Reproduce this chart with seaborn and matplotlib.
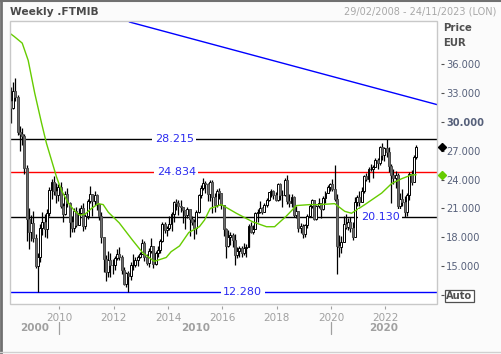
import numpy as np
import pandas as pd
import matplotlib
matplotlib.use("Agg")
import matplotlib.pyplot as plt
import matplotlib.transforms as mtransforms
from matplotlib.patches import Rectangle
from matplotlib.lines import Line2D
import seaborn as sns

sns.set_style("white")
plt.rcParams["font.family"] = ["DejaVu Sans"]

# ---------------- data (values in thousands of index points) ----------------
months = pd.period_range("2008-03", "2023-02", freq="M")
open_first = 32.2
close = [
    31.5, 33.2, 32.6, 29.0, 28.7, 28.5, 25.2, 19.9, 18.5, 19.5,
    17.9, 15.0, 15.9, 19.0, 19.6, 18.9, 20.5, 22.9, 23.8, 22.8, 22.4, 23.2,
    21.3, 20.4, 22.5, 21.6, 19.6, 19.0, 20.7, 19.3, 20.5, 21.0, 19.2, 20.2,
    21.8, 22.5, 21.8, 22.4, 21.5, 20.2, 18.0, 15.7, 14.4, 15.6, 15.1, 15.1,
    15.8, 16.3, 15.9, 14.6, 13.1, 14.3, 14.0, 15.1, 15.1, 15.6, 16.0, 16.3,
    17.4, 15.9, 15.3, 16.6, 17.1, 15.2, 16.4, 16.7, 17.6, 19.4, 18.8, 19.0,
    19.4, 20.4, 21.7, 21.6, 21.3, 21.1, 20.8, 20.3, 20.9, 19.9, 19.6, 19.0,
    20.6, 22.4, 23.1, 23.6, 23.5, 22.5, 23.7, 22.2, 21.4, 22.8, 22.6, 21.4,
    18.9, 17.1, 18.0, 18.2, 17.7, 16.2, 16.6, 16.9, 16.4, 16.9, 17.0, 19.2,
    18.6, 18.9, 20.5, 20.6, 21.0, 20.6, 21.4, 21.9, 22.7, 22.8, 22.4, 21.9,
    23.5, 22.4, 22.4, 24.0, 21.8, 21.6, 22.2, 20.3, 20.7, 19.0, 19.2, 18.3,
    19.3, 20.2, 21.3, 21.9, 19.9, 21.3, 21.6, 20.9, 22.1, 22.6, 23.2, 23.5,
    23.0, 22.0, 17.1, 17.0, 17.5, 19.4, 19.1, 19.6, 19.0, 18.0, 21.7, 22.2,
    21.7, 22.8, 24.4, 24.1, 25.1, 25.1, 25.3, 26.0, 25.7, 27.4, 26.6, 27.3,
    26.9, 25.4, 24.5, 24.2, 24.5, 21.3, 22.0, 21.7, 20.6, 22.4, 24.6, 23.7,
    26.4, 27.4,
]
high = [
    33.6, 34.2, 34.6, 32.8, 29.6, 29.4, 28.7, 25.5, 21.0, 20.3,
    20.7, 18.3, 16.4, 19.4, 20.6, 20.4, 20.9, 23.2, 24.1, 24.4, 23.6, 23.5,
    23.7, 21.6, 22.8, 23.1, 21.7, 20.2, 21.0, 21.1, 21.0, 21.4, 21.6, 20.4,
    22.0, 23.3, 22.5, 22.8, 22.5, 21.5, 20.6, 18.0, 16.2, 16.6, 16.4, 15.7,
    16.1, 16.8, 17.0, 16.2, 14.9, 14.4, 14.5, 15.4, 16.3, 15.9, 16.2, 16.5,
    17.8, 17.6, 16.3, 16.9, 17.9, 17.1, 16.6, 17.1, 17.8, 19.6, 19.6, 19.2,
    20.2, 20.6, 21.8, 22.0, 21.9, 21.9, 21.1, 20.5, 21.2, 20.7, 20.2, 19.9,
    20.8, 22.5, 23.4, 24.2, 23.9, 23.6, 24.0, 24.0, 22.6, 23.0, 23.1, 22.6,
    21.4, 19.0, 18.8, 18.6, 18.4, 18.3, 17.0, 17.1, 17.1, 17.4, 17.3, 19.4,
    19.6, 19.3, 20.6, 20.9, 21.8, 21.2, 21.6, 22.1, 22.7, 23.0, 22.9, 22.7,
    23.6, 23.6, 22.9, 24.2, 24.5, 22.5, 22.5, 22.3, 21.3, 20.7, 19.5, 19.4,
    19.4, 20.4, 21.5, 22.0, 21.9, 21.4, 22.1, 21.4, 22.3, 22.8, 23.4, 23.6,
    24.1, 25.5, 22.5, 18.2, 18.1, 20.2, 20.4, 20.0, 20.1, 19.6, 22.2, 22.4,
    22.8, 23.2, 24.5, 24.7, 25.3, 25.6, 25.5, 26.2, 26.3, 27.5, 27.8, 27.4,
    28.2, 27.4, 25.6, 25.1, 24.9, 24.7, 22.6, 23.0, 22.3, 22.6, 24.8, 25.0,
    26.6, 27.6,
]
low = [
    29.9, 31.3, 32.2, 28.6, 27.0, 27.6, 24.6, 17.6, 16.8, 17.6,
    17.5, 14.8, 12.3, 15.4, 18.2, 18.0, 17.9, 20.2, 22.0, 22.4, 21.6, 21.8,
    21.0, 19.6, 20.3, 21.2, 18.0, 18.6, 18.5, 19.1, 19.4, 20.4, 18.7, 18.9,
    19.9, 21.6, 20.2, 21.4, 20.8, 19.8, 17.4, 14.4, 13.5, 13.9, 13.9, 14.2,
    14.6, 15.6, 15.6, 14.2, 13.0, 12.8, 12.3, 13.6, 14.6, 14.9, 15.0, 15.8,
    16.4, 15.5, 15.1, 14.9, 16.4, 14.8, 15.1, 15.9, 16.4, 17.5, 18.4, 18.1,
    18.8, 18.7, 19.6, 20.8, 20.3, 20.6, 19.5, 18.9, 20.0, 18.1, 19.3, 17.8,
    18.3, 20.5, 22.1, 22.9, 22.6, 21.8, 21.8, 20.5, 20.6, 21.2, 22.0, 20.9,
    18.1, 15.8, 17.0, 17.2, 17.0, 15.1, 15.8, 16.0, 16.0, 16.2, 15.9, 17.0,
    18.4, 18.3, 18.9, 19.6, 20.5, 20.4, 20.6, 21.2, 21.8, 22.2, 22.0, 21.8,
    21.8, 21.9, 21.2, 22.3, 21.5, 21.2, 21.2, 20.1, 20.0, 18.6, 18.4, 17.9,
    18.0, 19.0, 20.1, 21.0, 19.8, 19.8, 21.0, 20.0, 20.8, 21.6, 22.6, 22.8,
    22.8, 21.8, 14.2, 16.0, 16.4, 17.8, 18.9, 18.8, 18.6, 17.7, 18.3, 21.3,
    21.3, 21.7, 22.6, 23.9, 23.8, 24.9, 24.2, 25.3, 25.1, 25.5, 26.0, 25.9,
    26.4, 24.8, 21.6, 23.5, 23.1, 20.9, 20.4, 21.3, 20.1, 20.2, 21.9, 23.4,
    23.8, 26.1,
]

# moving average (decimal year, value)
ma_x = [2008.14, 2008.33, 2008.63, 2008.85, 2009.09, 2009.34, 2009.52, 2009.70,
        2009.89, 2010.07, 2010.32, 2010.57, 2010.75, 2010.94, 2011.18, 2011.43,
        2011.61, 2011.80, 2012.20, 2012.69, 2013.06, 2013.49, 2013.93, 2014.11,
        2014.42, 2014.76, 2015.15, 2015.34, 2015.55, 2015.96, 2016.51, 2017.12,
        2017.62, 2017.92, 2018.35, 2018.72, 2019.21, 2019.58, 2020.13, 2020.50,
        2020.75, 2021.24, 2021.86, 2022.23, 2022.60, 2022.97, 2023.13]
ma_y = [39.3, 38.9, 38.2, 36.4, 33.0, 29.9, 27.8, 26.1,
        24.3, 22.9, 21.6, 20.7, 20.3, 20.4, 21.0, 21.5,
        21.4, 20.6, 19.5, 17.7, 16.4, 15.5, 15.9, 16.5,
        17.1, 18.5, 19.1, 19.8, 21.0, 21.4, 20.5, 19.6,
        19.1, 19.1, 20.2, 21.3, 21.4, 21.4, 21.5, 20.7,
        20.5, 21.4, 22.6, 23.6, 24.1, 24.5, 24.5]

trend_x = [2012.57, 2023.90]
trend_y = [40.4, 31.8]

levels = [28.215, 24.834, 20.130, 12.280]
level_colors = ["black", "#ff0000", "black", "#0000ff"]
level_label_x = [2014.23, 2014.30, 2021.80, 2016.74]

year_ticks = [2010, 2012, 2014, 2016, 2018, 2020, 2022]
decades = ["2000", "2010", "2020"]
price_ticks = [15, 18, 21, 24, 27, 30, 33, 36]

x_start = 2008.162   # 29/02/2008
x_end = 2023.896     # 24/11/2023

# ---------------- figure ----------------
fig = plt.figure(figsize=(5.02, 3.54), dpi=100, facecolor="#fbfbfb")
W, H = 502, 354
ax = fig.add_axes([9.5 / W, 1 - 304 / H, (437 - 9.5) / W, (304 - 21) / H])
ax.set_facecolor("white")

df = pd.DataFrame({
    "x": months.year + (months.month - 0.5) / 12.0,
    "close": close, "high": high, "low": low,
})
df["open"] = [open_first] + close[:-1]
up = df["close"] >= df["open"]

# wicks
ax.vlines(df["x"], df["low"], df["high"], color="black", lw=0.9, zorder=3)
# bodies
bw = 0.072
ax.bar(df["x"][up], (df["close"] - df["open"])[up], bottom=df["open"][up],
       width=bw, color="white", edgecolor="black", lw=0.7, zorder=4)
ax.bar(df["x"][~up], (df["open"] - df["close"])[~up], bottom=df["close"][~up],
       width=bw, color="#6e6e6e", edgecolor="#4a4a4a", lw=0.7, zorder=4)

# moving average
sns.lineplot(x=ma_x, y=ma_y, color="#66cc00", lw=1.0, ax=ax, zorder=5)

# trend line
ax.plot(trend_x, trend_y, color="#0000ff", lw=1.0, zorder=2)

# horizontal levels
for lv, c, lx in zip(levels, level_colors, level_label_x):
    ax.axhline(lv, color=c, lw=1.0, zorder=2)
    ax.text(lx, lv, f"{lv:.3f}", color="#2b2bf0", ha="center", va="center",
            fontsize=8, zorder=6,
            bbox=dict(facecolor="white", edgecolor="none", pad=1.8))

ax.set_xlim(x_start, x_end)
ax.set_ylim(11.06, 40.5)

# frame
for s in ax.spines.values():
    s.set_visible(False)
ax.add_patch(Rectangle((0, 0), 1, 1, transform=ax.transAxes, fill=False,
                       ec="#c8c8c8", lw=1.0, clip_on=False, zorder=10))
ax.spines["right"].set_position(("outward", 3))
ax.spines["bottom"].set_position(("outward", 1.5))

# x ticks
ax.set_xticks(year_ticks)
ax.set_xticklabels([str(y) for y in year_ticks])
ax.tick_params(axis="x", bottom=True, direction="out", length=2.5, width=0.8,
               color="#a0a0a0", labelcolor="#a0a0a0", labelsize=7.5, pad=2.5)

# y ticks on right
ax.yaxis.tick_right()
yt = price_ticks + [12]
ax.set_yticks(yt)
ax.set_yticklabels([f"{v:.3f}" for v in price_ticks] + ["Auto"])
ax.tick_params(axis="y", right=True, left=False, direction="out", length=2.5,
               width=0.8, color="#505050", labelcolor="#56607a",
               labelsize=7.1, pad=1.2)
for lbl in ax.get_yticklabels():
    if lbl.get_text() == "30.000":
        lbl.set_fontweight("bold")
    if lbl.get_text() == "Auto":
        lbl.set_fontweight("bold")
        lbl.set_color("#505050")
        lbl.set_bbox(dict(facecolor="white", edgecolor="#505050", lw=0.9, pad=0.8))

# last-value markers
bt = mtransforms.blended_transform_factory(ax.transAxes, ax.transData)
ax.plot([1.0117], [close[-1]], marker="D", color="black", ms=4.5,
        transform=bt, clip_on=False, zorder=11)
ax.plot([1.0117], [ma_y[-1]], marker="D", color="#66cc00", ms=4.5,
        transform=bt, clip_on=False, zorder=11)

# decade row
dt = mtransforms.blended_transform_factory(ax.transData, fig.transFigure)
bounds = [x_start, 2010, 2020, x_end]
for i, d in enumerate(decades):
    ax.text((bounds[i] + bounds[i + 1]) / 2, 1 - 328 / H, d, transform=dt,
            ha="center", va="center", fontsize=7.5, fontweight="bold",
            color="#a0a0a0", clip_on=False)
for b in [2010, 2020]:
    ax.add_line(Line2D([b, b], [1 - 322 / H, 1 - 334 / H], transform=dt,
                       color="#a0a0a0", lw=0.9, clip_on=False))

# header texts
fig.text(10 / W, 1 - 12 / H, "Weekly .FTMIB", ha="left", va="center",
         fontsize=7.7, fontweight="bold", color="#4a4a4a")
fig.text(496 / W, 1 - 12 / H, "29/02/2008 - 24/11/2023 (LON)", ha="right",
         va="center", fontsize=7.0, color="#a8a8a8")
fig.text(443 / W, 1 - 28 / H, "Price", ha="left", va="center",
         fontsize=7.3, fontweight="bold", color="#505050")
fig.text(443 / W, 1 - 43 / H, "EUR", ha="left", va="center",
         fontsize=7.3, fontweight="bold", color="#505050")

# outer border
fig.add_artist(Line2D([0.5 / W, 0.5 / W], [0, 1], color="#707070", lw=2))
fig.add_artist(Line2D([0, 1], [1 - 0.5 / H, 1 - 0.5 / H], color="#707070", lw=1.5))
fig.add_artist(Line2D([0, 1], [2 / H, 2 / H], color="#d0d0d0", lw=1))

fig.savefig("out.png", dpi=100, facecolor=fig.get_facecolor())
